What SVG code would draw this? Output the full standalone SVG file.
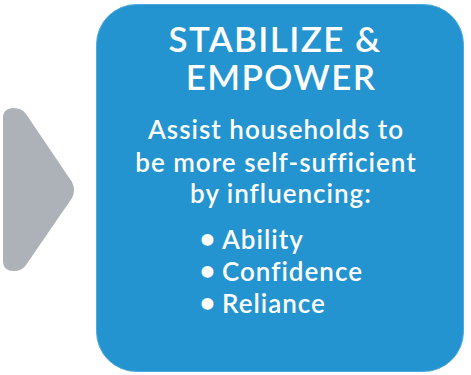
<svg xmlns="http://www.w3.org/2000/svg" width="471" height="375" viewBox="0 0 471 375">
  <style>
    .title { font-family: Lato, "Liberation Sans", sans-serif; font-size: 35px; font-weight: 600; letter-spacing: 1.4px; fill: #ffffff; text-anchor: middle; }
    .body { font-family: Lato, "Liberation Sans", sans-serif; font-size: 26px; font-weight: 600; letter-spacing: 1px; fill: #ffffff; text-anchor: middle; }
    .item { font-family: Lato, "Liberation Sans", sans-serif; font-size: 26px; font-weight: 600; letter-spacing: 1px; fill: #ffffff; }
    .dot { font-size: 29px; }
  </style>
  <rect width="471" height="375" fill="#ffffff"/>
  <g id="arrow">
    <path d="M14 108 Q22 108 26 114 L72 182 Q76 190 72 198 L26 265 Q22 271 14 271 Q3 271 3 261 L3 118 Q3 108 14 108 Z" fill="#adb1b8"/>
  </g>
  <g id="stabilize-empower">
    <rect x="96.500" y="4.500" width="367" height="367" rx="40" ry="40" fill="#2394d0" stroke="#4fa9dc" stroke-width="1"/>
    <text class="title" x="275" y="52">STABILIZE &amp;</text>
    <text class="title" x="281" y="90">EMPOWER</text>
    <text class="body" x="276" y="139">Assist households to</text>
    <text class="body" x="276" y="172">be more self-sufficient</text>
    <text class="body" x="281" y="203">by influencing:</text>
    <text class="item" y="249"><tspan class="dot" x="199">•</tspan><tspan x="222">Ability</tspan></text>
    <text class="item" y="281"><tspan class="dot" x="199">•</tspan><tspan x="222">Confidence</tspan></text>
    <text class="item" y="313"><tspan class="dot" x="199">•</tspan><tspan x="222">Reliance</tspan></text>
  </g>
</svg>
